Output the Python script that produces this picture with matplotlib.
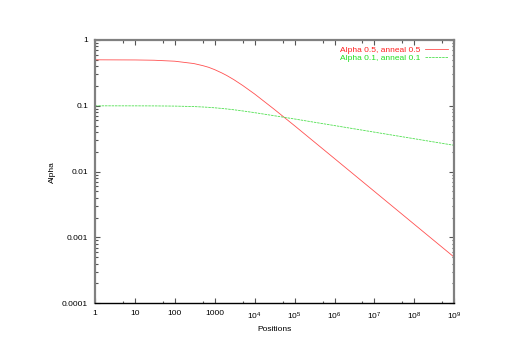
import matplotlib
matplotlib.use("Agg")
import matplotlib.pyplot as plt
from matplotlib.ticker import FixedLocator, FixedFormatter, NullFormatter

plt.rcParams["font.family"] = ["Liberation Sans", "DejaVu Sans"]
plt.rcParams["mathtext.default"] = "regular"

# Values
positions = [1, 10, 30, 100, 300, 500, 700, 1000, 1500, 2000, 3000, 5000,
             1e4, 3e4, 1e5, 3e5, 1e6, 1e7, 1e8, 1e9]
alpha_05 = [0.5, 0.4975, 0.4926, 0.476, 0.4385, 0.408, 0.385, 0.354, 0.316,
            0.2887, 0.25, 0.204, 0.151, 0.0898, 0.0498, 0.0288, 0.0158, 0.005,
            0.00158, 0.0005]
alpha_01 = [0.1, 0.0999, 0.0997, 0.099, 0.0974, 0.096, 0.0948, 0.0933, 0.0912,
            0.0896, 0.0871, 0.0836, 0.0787, 0.0709, 0.0631, 0.0565, 0.0501,
            0.0398, 0.0316, 0.0251]

xticks = [1, 10, 100, 1000, 1e4, 1e5, 1e6, 1e7, 1e8, 1e9]
xlabels = ["1", "10", "100", "1000", "$10^4$", "$10^5$", "$10^6$", "$10^7$",
           "$10^8$", "$10^9$"]
yticks = [1e-4, 1e-3, 1e-2, 0.1, 1]
ylabels = ["0.0001", "0.001", "0.01", "0.1", "1"]

fig = plt.figure(figsize=(5.12, 3.59), dpi=100)
ax = fig.add_axes([0.1855, 0.1552, 0.7018, 0.7334])

ax.plot(positions, alpha_05, color="#ff5050", lw=0.6,
        label="Alpha 0.5, anneal 0.5")
ax.plot(positions, alpha_01, color="#50e050", lw=0.6, ls=(0, (3, 1)),
        label="Alpha 0.1, anneal 0.1")

ax.set_xscale("log")
ax.set_yscale("log")
ax.set_xlim(1, 1e9)
ax.set_ylim(1e-4, 1)

ax.xaxis.set_major_locator(FixedLocator(xticks))
ax.xaxis.set_major_formatter(FixedFormatter(xlabels))
ax.xaxis.set_minor_locator(FixedLocator([5 * 10**i for i in range(9)]))
ax.xaxis.set_minor_formatter(NullFormatter())
ax.yaxis.set_major_locator(FixedLocator(yticks))
ax.yaxis.set_major_formatter(FixedFormatter(ylabels))
ax.yaxis.set_minor_locator(FixedLocator(
    [m * 10.0**e for e in range(-4, 0) for m in range(2, 10)]))
ax.yaxis.set_minor_formatter(NullFormatter())

ax.tick_params(which="both", direction="in", top=True, right=True,
               labelsize=6, color="#555555", pad=5)
ax.tick_params(which="major", length=3.5, width=0.8)
ax.tick_params(which="minor", length=1.8, width=0.8)

for side in ["left", "right", "top"]:
    ax.spines[side].set_color("#808080")
    ax.spines[side].set_linewidth(1.6)
ax.spines["bottom"].set_color("black")
ax.spines["bottom"].set_linewidth(1.0)

ax.set_xlabel("Positions", fontsize=6, labelpad=3)
ax.set_ylabel("Alpha", fontsize=6, labelpad=4)

leg = ax.legend(loc="upper right", frameon=False, fontsize=6,
                markerfirst=False, handlelength=2.8, handletextpad=0.6,
                labelspacing=0.05, borderaxespad=0.3)
for text, color in zip(leg.get_texts(), ["#ff2020", "#20e020"]):
    text.set_color(color)

fig.savefig("out.png", dpi=100)
